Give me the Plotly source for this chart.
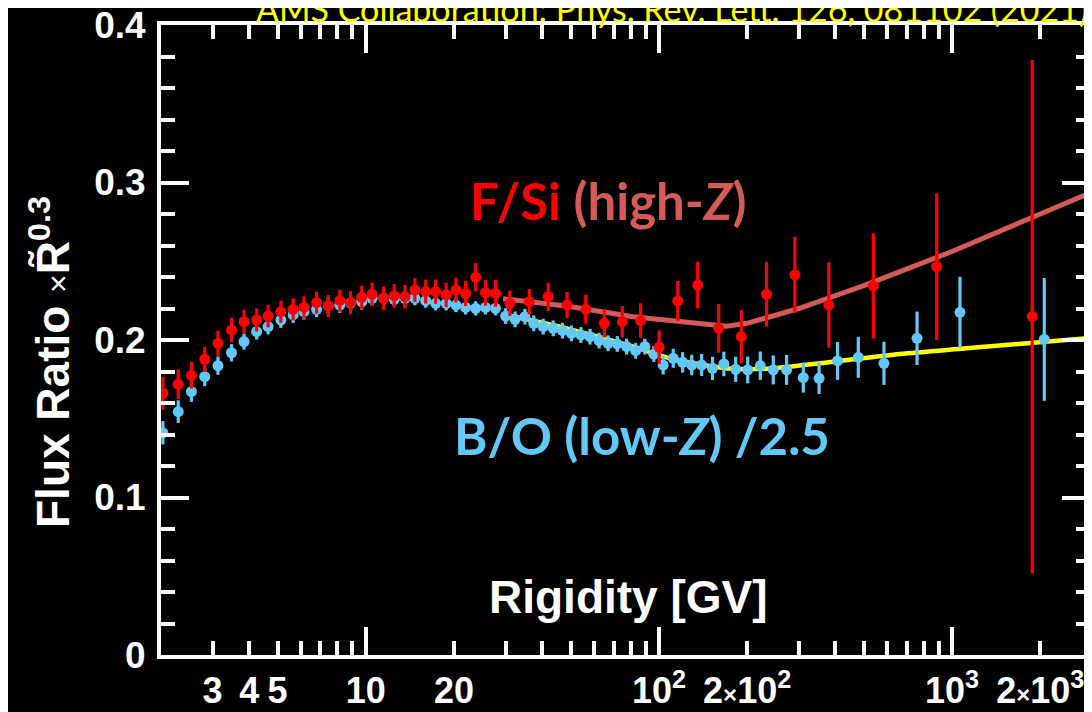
import math
import plotly.graph_objects as go

# ---------------- data ----------------
# B/O (low-Z) /2.5
bo_R = [2.03, 2.29, 2.54, 2.82, 3.13, 3.48, 3.84, 4.24, 4.64, 5.13, 5.65, 6.15, 6.79, 7.44, 8.15,
        8.87, 9.68, 10.5, 11.5, 12.5, 13.6, 14.7, 16.0, 17.3, 18.8, 20.3, 21.9, 23.7, 25.6, 27.7,
        30.0, 32.3, 34.9, 37.4, 40.3, 43.6, 46.9, 50.3, 54.2, 58.2, 62.5, 67.1, 72.1, 77.6, 83.3,
        89.5, 96.1, 103.4, 111.9, 120.5, 129.4, 139.9, 152.4, 166.6, 182.8, 200.9, 221.8, 245.6,
        272.7, 311, 352, 407, 479, 586, 760, 1065, 2065]
bo_v = [0.1411, 0.1545, 0.1672, 0.1767, 0.1837, 0.1919, 0.1989, 0.2053, 0.2085, 0.2127, 0.2159,
        0.2180, 0.2195, 0.2216, 0.2222, 0.2235, 0.2243, 0.2265, 0.2265, 0.2258, 0.2265, 0.2265,
        0.2250, 0.2233, 0.2233, 0.2222, 0.2207, 0.2201, 0.2207, 0.2201, 0.2152, 0.2131, 0.2148,
        0.2106, 0.2085, 0.2074, 0.2059, 0.2042, 0.2032, 0.2021, 0.1996, 0.1979, 0.1975, 0.1958,
        0.1932, 0.1958, 0.1911, 0.1841, 0.1884, 0.1858, 0.1841, 0.1841, 0.1820, 0.1848, 0.1814,
        0.1810, 0.1837, 0.1810, 0.1810, 0.1761, 0.1757, 0.1867, 0.1890, 0.1852, 0.2011, 0.2176,
        0.2004]
bo_err = [0.0074, 0.0072, 0.0065, 0.0060, 0.0058, 0.0055, 0.0050, 0.0050, 0.0050, 0.0050, 0.0050,
          0.0050, 0.0050, 0.0050, 0.0050, 0.0050, 0.0050, 0.0045, 0.0045, 0.0045, 0.0045, 0.0045,
          0.0045, 0.0045, 0.0045, 0.0045, 0.0045, 0.0045, 0.0045, 0.0045, 0.0050, 0.0050, 0.0050,
          0.0050, 0.0050, 0.0050, 0.0050, 0.0050, 0.0050, 0.0050, 0.0050, 0.0050, 0.0050, 0.0050,
          0.0050, 0.0050, 0.0050, 0.0060, 0.0060, 0.0065, 0.0065, 0.0070, 0.0074, 0.0078, 0.0080,
          0.0085, 0.0090, 0.0092, 0.0095, 0.0095, 0.0100, 0.0120, 0.0130, 0.0137, 0.0170, 0.0225,
          0.0390]

# F/Si (high-Z)
fs_R = [2.03, 2.29, 2.54, 2.82, 3.13, 3.48, 3.84, 4.24, 4.64, 5.13, 5.65, 6.15, 6.79, 7.44, 8.15,
        8.87, 9.68, 10.5, 11.5, 12.5, 13.6, 14.7, 16.0, 17.3, 18.8, 20.3, 21.9, 23.7, 25.6, 27.7,
        31.0, 36.1, 41.9, 48.6, 56.3, 65.1, 75.0, 86.6, 100.2, 116, 135.6, 160, 191, 233, 291,
        380, 539, 887, 1879]
fs_v = [0.1662, 0.1719, 0.1776, 0.1877, 0.1979, 0.2063, 0.2116, 0.2127, 0.2152, 0.2180, 0.2195,
        0.2207, 0.2237, 0.2216, 0.2250, 0.2237, 0.2271, 0.2290, 0.2265, 0.2280, 0.2275, 0.2317,
        0.2307, 0.2307, 0.2286, 0.2317, 0.2296, 0.2398, 0.2300, 0.2296, 0.2233, 0.2243, 0.2275,
        0.2222, 0.2195, 0.2106, 0.2116, 0.2123, 0.1954, 0.2248, 0.2349, 0.2074, 0.2021, 0.2290,
        0.2413, 0.2222, 0.2343, 0.2466, 0.2148]
fs_err = [0.0106, 0.0095, 0.0085, 0.0080, 0.0080, 0.0078, 0.0076, 0.0074, 0.0072, 0.0070, 0.0070,
          0.0070, 0.0070, 0.0070, 0.0070, 0.0074, 0.0074, 0.0074, 0.0074, 0.0075, 0.0075, 0.0076,
          0.0076, 0.0077, 0.0078, 0.0079, 0.0080, 0.0090, 0.0082, 0.0085, 0.0080, 0.0080, 0.0090,
          0.0083, 0.0092, 0.0090, 0.0100, 0.0110, 0.0106, 0.0127, 0.0148, 0.0154, 0.0170, 0.0206,
          0.0243, 0.0271, 0.0334, 0.0466, 0.1630]

# fitted curves
fs_fit_R = [29.4, 48.4, 81.7, 138, 170, 200, 300, 500, 1000, 2000, 2958]
fs_fit_v = [0.2262, 0.2216, 0.2148, 0.2102, 0.2087, 0.2106, 0.2200, 0.2345, 0.2562, 0.2800, 0.2933]
bo_fit_R = [30, 48.4, 81.7, 106, 138, 179, 233, 393, 664, 1122, 1894, 2958]
bo_fit_v = [0.2160, 0.2074, 0.1958, 0.1890, 0.1845, 0.1818, 0.1818, 0.1862, 0.1911, 0.1947, 0.1983, 0.2012]

# axis ticks
x_label_vals = [3, 4, 5, 10, 20, 100, 200, 1000, 2000]
x_label_text = ["3", "4", "5", "10", "20", "10<sup>2</sup>",
                "2<span style='font-size:24px'>×</span>10<sup>2</sup>",
                "10<sup>3</sup>", "2<span style='font-size:24px'>×</span>10<sup>3</sup>"]
x_major = [10, 100, 1000]
x_minor = [2, 3, 4, 5, 6, 7, 8, 9, 20, 30, 40, 50, 60, 70, 80, 90,
           200, 300, 400, 500, 600, 700, 800, 900, 2000]
y_major = [0, 0.1, 0.2, 0.3, 0.4]
y_major_text = ["0", "0.1", "0.2", "0.3", "0.4"]

RED = "#ff0000"
BLUE = "#62c8f7"
FITRED = "#d45a58"
YELLOW = "#ffff00"
WHITE = "#ffffff"

# the page body offsets the figure by 8 px; layout positions below are in figure pixels
W, H = 1084, 704
L, R_, T, B = 153, 2, 17, 57
PW, PH = W - L - R_, H - T - B
OFF = 8  # reference-picture pixel = figure pixel + OFF


def px(xp):
    return (xp - OFF - L) / PW


def py(yp):
    return (H - B - (yp - OFF)) / PH


fig = go.Figure()

fig.add_trace(go.Scatter(x=bo_fit_R, y=bo_fit_v, mode="lines",
                         line=dict(color=YELLOW, width=4.5, shape="spline", smoothing=0.8),
                         hoverinfo="skip", showlegend=False))
fig.add_trace(go.Scatter(x=bo_R, y=bo_v, mode="markers",
                         marker=dict(color=BLUE, size=11),
                         error_y=dict(type="data", array=bo_err, color=BLUE, thickness=3.2, width=0),
                         showlegend=False))
fig.add_trace(go.Scatter(x=fs_fit_R, y=fs_fit_v, mode="lines",
                         line=dict(color=FITRED, width=5),
                         hoverinfo="skip", showlegend=False))
fig.add_trace(go.Scatter(x=fs_R, y=fs_v, mode="markers",
                         marker=dict(color=RED, size=11),
                         error_y=dict(type="data", array=fs_err, color=RED, thickness=3.2, width=0),
                         showlegend=False))

xr = [math.log10(2), math.log10(2958)]

fig.update_layout(
    width=W, height=H,
    margin=dict(l=L, r=R_, t=T, b=B, autoexpand=False),
    paper_bgcolor="black", plot_bgcolor="black",
    showlegend=False,
    xaxis=dict(type="log", range=xr, showgrid=False, zeroline=False,
               showline=True, linecolor=WHITE, linewidth=4, mirror="ticks",
               tickmode="array", tickvals=x_major, ticks="inside", ticklen=28,
               tickwidth=3.5, tickcolor=WHITE, showticklabels=False,
               minor=dict(tickmode="array", tickvals=x_minor, ticks="inside", ticklen=14,
                          tickwidth=3.5, tickcolor=WHITE, showgrid=False)),
    xaxis2=dict(type="log", range=xr, overlaying="x", matches="x", anchor="y", side="bottom",
                showgrid=False, zeroline=False, showline=False,
                tickmode="array", tickvals=x_label_vals, ticktext=x_label_text,
                ticks="", tickangle=0, ticklabelstandoff=11, ticklabeloverflow="allow",
                tickfont=dict(family="Liberation Sans Narrow, Liberation Sans, Arial, sans-serif",
                              size=36, color=WHITE, weight="bold")),
    yaxis=dict(range=[0, 0.4], showgrid=False, zeroline=False,
               showline=True, linecolor=WHITE, linewidth=4, mirror="ticks",
               tickmode="array", tickvals=y_major, ticktext=y_major_text,
               ticks="inside", ticklen=28, tickwidth=3.5, tickcolor=WHITE,
               ticklabelstandoff=4, ticklabeloverflow="allow",
               tickfont=dict(family="Liberation Sans, Arial, sans-serif", size=37,
                             color=WHITE, weight="bold")),
)
fig.update_yaxes(minor=dict(dtick=0.02, tick0=0, ticks="inside", ticklen=14, tickwidth=3.5,
                            tickcolor=WHITE, showgrid=False))

# empty trace so xaxis2 (tick labels) is drawn
fig.add_trace(go.Scatter(x=[], y=[], xaxis="x2", yaxis="y", showlegend=False))

annotations = [
    dict(text="AMS Collaboration: Phys. Rev. Lett. 126, 081102 (2021)",
         xref="paper", yref="paper", x=px(672), y=py(8), xanchor="center", yanchor="middle",
         showarrow=False, font=dict(family="Lato, Carlito, sans-serif", size=34, color=YELLOW)),
    dict(text="Flux Ratio <span style='font-size:32px;font-weight:normal'>×</span>R\u0303<sup>0.3</sup>",
         xref="paper", yref="paper", x=px(50), y=py(362), xanchor="center", yanchor="middle",
         textangle=-90, showarrow=False,
         font=dict(family="Liberation Sans, Arial, sans-serif", size=46, color=WHITE, weight="bold")),
    dict(text="Rigidity [GV]",
         xref="paper", yref="paper", x=px(628), y=py(597), xanchor="center", yanchor="middle",
         showarrow=False,
         font=dict(family="Liberation Sans, Arial, sans-serif", size=46, color=WHITE, weight="bold")),
    dict(text="<span style='color:%s'>F/Si</span> <span style='color:%s'>(high-<i>Z</i>)</span>" % (RED, FITRED),
         xref="paper", yref="paper", x=px(467.7), y=py(200), xanchor="left", yanchor="middle",
         showarrow=False,
         font=dict(family="Lato, Carlito, sans-serif", size=51, color=RED, weight="bold")),
    dict(text="B/O (low-<i>Z</i>) /2.5",
         xref="paper", yref="paper", x=px(451.7), y=py(435), xanchor="left", yanchor="middle",
         showarrow=False,
         font=dict(family="Lato, Carlito, sans-serif", size=51, color=BLUE, weight="bold")),
]
fig.update_layout(annotations=annotations)

fig.write_html("out.html")
